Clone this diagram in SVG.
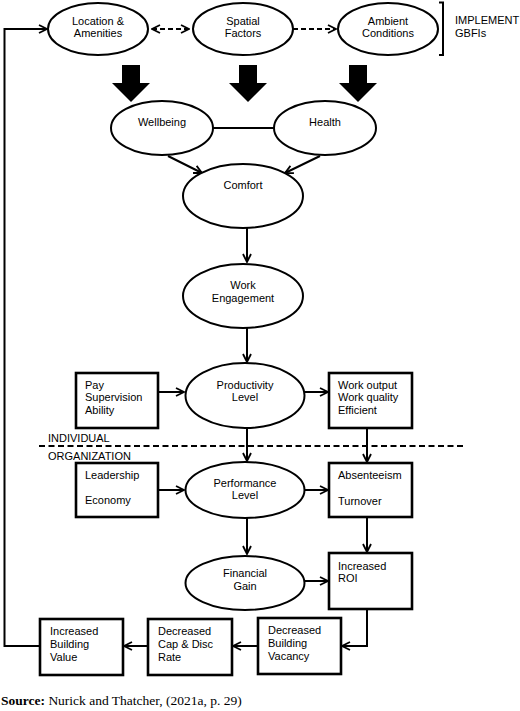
<svg xmlns="http://www.w3.org/2000/svg" width="520" height="711" viewBox="0 0 520 711">
<defs>
<style>
.el{fill:#fff;stroke:#000;stroke-width:2}
.bx{fill:#fff;stroke:#000;stroke-width:2.6}
.t{font-family:"Liberation Sans",Arial,sans-serif;font-size:11px;fill:#000}
.c{text-anchor:middle}
.ln{fill:none;stroke:#000;stroke-width:2}
.ds{fill:none;stroke:#000;stroke-width:2;stroke-dasharray:5,3}
.blk{fill:#000}
</style>
<marker id="ah" viewBox="0 0 10 10" refX="9" refY="5" markerWidth="10" markerHeight="10" markerUnits="userSpaceOnUse" orient="auto-start-reverse">
<path d="M1,1 L9,5 L1,9" fill="none" stroke="#000" stroke-width="1.8"/>
</marker>
</defs>
<rect width="520" height="711" fill="#fff"/>

<g id="connectors">
<path class="ds" d="M152,29 H189" marker-start="url(#ah)" marker-end="url(#ah)"/>
<path class="ds" d="M293,29 H336" marker-end="url(#ah)"/>
<path class="blk" d="M122,65 H140 V83 H150 L131,102 L112,83 H122 Z"/>
<path class="blk" d="M239,65 H257 V83 H267 L248,102 L229,83 H239 Z"/>
<path class="blk" d="M349,65 H367 V83 H377 L358,102 L339,83 H349 Z"/>
<path class="ln" d="M213,128 H275"/>
<path class="ln" d="M168,156 L202,173" marker-end="url(#ah)"/>
<path class="ln" d="M320,156 L285,173" marker-end="url(#ah)"/>
<path class="ln" d="M247,228 V262" marker-end="url(#ah)"/>
<path class="ln" d="M247,328 V362" marker-end="url(#ah)"/>
<path class="ln" d="M158,392 H184" marker-end="url(#ah)"/>
<path class="ln" d="M304,392 H328" marker-end="url(#ah)"/>
<path class="ln" d="M247,428 V461" marker-end="url(#ah)"/>
<path class="ln" d="M367,428 V462" marker-end="url(#ah)"/>
<path class="ln" d="M158,490 H184" marker-end="url(#ah)"/>
<path class="ln" d="M304,490 H328" marker-end="url(#ah)"/>
<path class="ln" d="M247,518 V554" marker-end="url(#ah)"/>
<path class="ln" d="M367,517 V552" marker-end="url(#ah)"/>
<path class="ln" d="M304,581 H328" marker-end="url(#ah)"/>
<path class="ln" d="M367,609 V646 H342" marker-end="url(#ah)"/>
<path class="ln" d="M258,646 H233" marker-end="url(#ah)"/>
<path class="ln" d="M148,646 H124" marker-end="url(#ah)"/>
<path class="ln" d="M40,646 H4.5 V29 H47" marker-end="url(#ah)"/>
<path class="ln" d="M39,446 H465" stroke-dasharray="6,3.5"/>
<path class="ln" d="M439,2.5 H443 V55 H439"/>
</g>

<g id="location">
<ellipse class="el" cx="98" cy="29" rx="50" ry="26"/>
<text class="t c" x="98" y="25">Location &amp;</text>
<text class="t c" x="98" y="37">Amenities</text>
</g>
<g id="spatial">
<ellipse class="el" cx="243" cy="29" rx="50" ry="26"/>
<text class="t c" x="243" y="25">Spatial</text>
<text class="t c" x="243" y="37">Factors</text>
</g>
<g id="ambient">
<ellipse class="el" cx="388" cy="29" rx="50" ry="26"/>
<text class="t c" x="388" y="25">Ambient</text>
<text class="t c" x="388" y="37">Conditions</text>
</g>
<g id="implement">
<text class="t" x="455" y="24">IMPLEMENT</text>
<text class="t" x="455" y="37">GBFIs</text>
</g>
<g id="wellbeing">
<ellipse class="el" cx="162" cy="128" rx="51" ry="27"/>
<text class="t c" x="162" y="126">Wellbeing</text>
</g>
<g id="health">
<ellipse class="el" cx="325" cy="128" rx="51" ry="27"/>
<text class="t c" x="325" y="126">Health</text>
</g>
<g id="comfort">
<ellipse class="el" cx="243" cy="196" rx="60" ry="32"/>
<text class="t c" x="243" y="189">Comfort</text>
</g>
<g id="work-engagement">
<ellipse class="el" cx="243" cy="296" rx="60" ry="32"/>
<text class="t c" x="243" y="289">Work</text>
<text class="t c" x="243" y="302">Engagement</text>
</g>
<g id="pay">
<rect class="bx" x="76" y="373" width="82" height="55"/>
<text class="t" x="85" y="389">Pay</text>
<text class="t" x="85" y="401">Supervision</text>
<text class="t" x="85" y="414">Ability</text>
</g>
<g id="productivity">
<ellipse class="el" cx="245" cy="395.5" rx="59.5" ry="32.5"/>
<text class="t c" x="245" y="389">Productivity</text>
<text class="t c" x="245" y="401">Level</text>
</g>
<g id="work-output">
<rect class="bx" x="329" y="373" width="83" height="55"/>
<text class="t" x="338" y="389">Work output</text>
<text class="t" x="338" y="401">Work quality</text>
<text class="t" x="338" y="414">Efficient</text>
</g>
<g id="levels">
<text class="t" x="48" y="442">INDIVIDUAL</text>
<text class="t" x="48" y="460">ORGANIZATION</text>
</g>
<g id="leadership">
<rect class="bx" x="76" y="463" width="82" height="54"/>
<text class="t" x="85" y="479">Leadership</text>
<text class="t" x="85" y="504">Economy</text>
</g>
<g id="performance">
<ellipse class="el" cx="245" cy="490" rx="59.5" ry="28"/>
<text class="t c" x="245" y="487">Performance</text>
<text class="t c" x="245" y="499">Level</text>
</g>
<g id="absenteeism">
<rect class="bx" x="329" y="463" width="83" height="54"/>
<text class="t" x="338" y="479">Absenteeism</text>
<text class="t" x="338" y="505">Turnover</text>
</g>
<g id="financial-gain">
<ellipse class="el" cx="245" cy="583" rx="59.5" ry="27"/>
<text class="t c" x="245" y="577">Financial</text>
<text class="t c" x="245" y="590">Gain</text>
</g>
<g id="roi">
<rect class="bx" x="329" y="553" width="83" height="56"/>
<text class="t" x="338" y="570">Increased</text>
<text class="t" x="338" y="582">ROI</text>
</g>
<g id="vacancy">
<rect class="bx" x="258" y="618" width="83" height="56"/>
<text class="t" x="268" y="634">Decreased</text>
<text class="t" x="268" y="647">Building</text>
<text class="t" x="268" y="660">Vacancy</text>
</g>
<g id="cap-rate">
<rect class="bx" x="148" y="619" width="84" height="56"/>
<text class="t" x="158" y="635">Decreased</text>
<text class="t" x="158" y="648">Cap &amp; Disc</text>
<text class="t" x="158" y="661">Rate</text>
</g>
<g id="building-value">
<rect class="bx" x="40" y="619" width="83" height="56"/>
<text class="t" x="50" y="635">Increased</text>
<text class="t" x="50" y="648">Building</text>
<text class="t" x="50" y="661">Value</text>
</g>
<g id="source">
<text x="1" y="705" font-family="'Liberation Serif','Times New Roman',serif" font-size="13.5" fill="#000"><tspan font-weight="bold">Source:</tspan> Nurick and Thatcher, (2021a, p. 29)</text>
</g>
</svg>
